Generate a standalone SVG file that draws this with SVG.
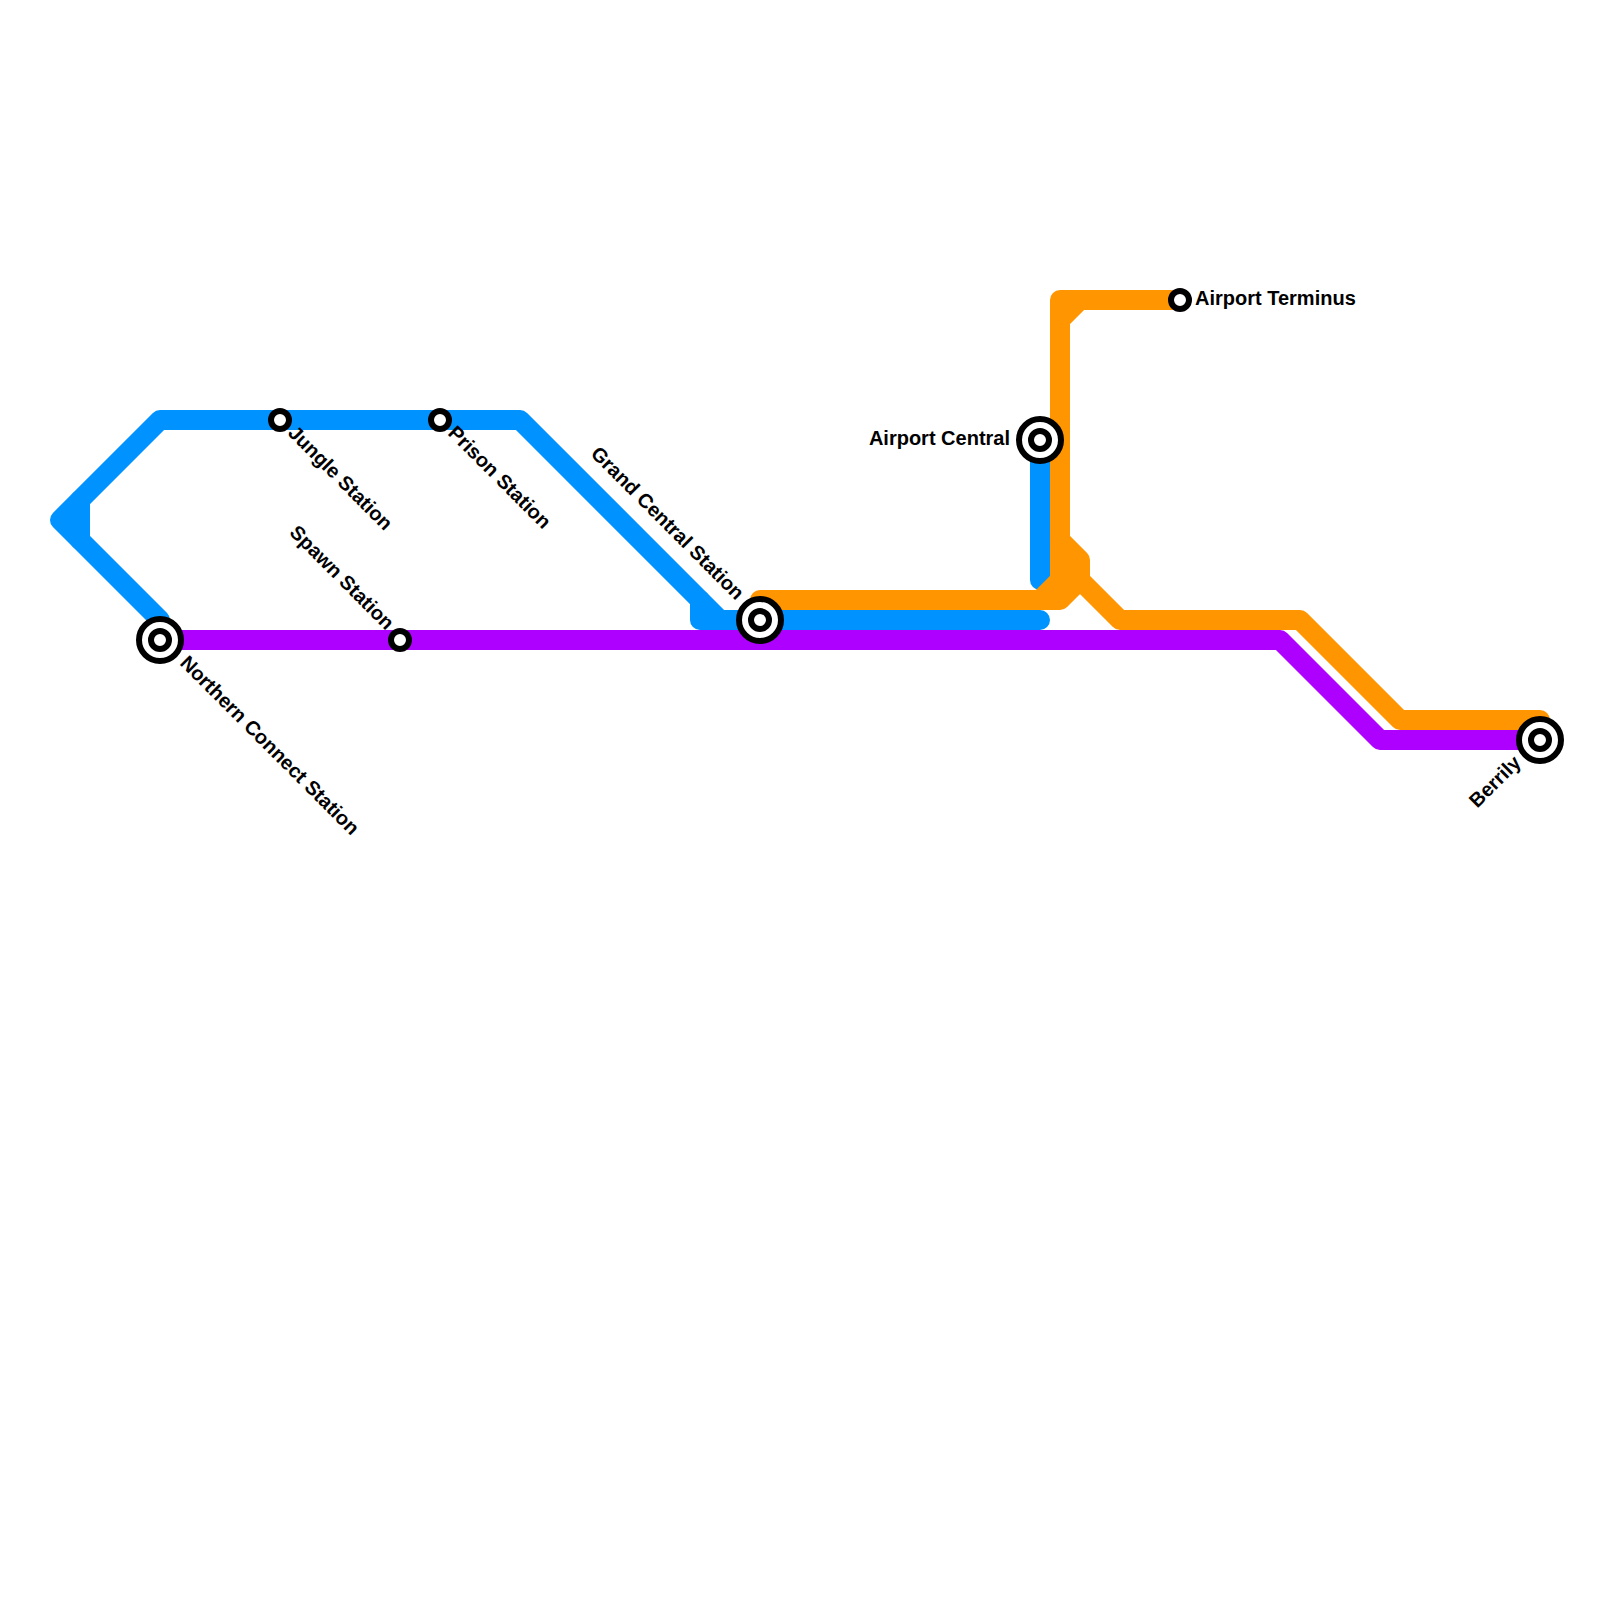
<svg xmlns="http://www.w3.org/2000/svg" width="1600" height="1600" viewBox="0 0 1600 1600">
<style>
.l{fill:none;stroke-width:20;stroke-linecap:round;stroke-linejoin:round}
.b{stroke:#0092ff}.o{stroke:#ff9500}.p{stroke:#ae00ff}
.s{fill:#fff;stroke:#000;stroke-width:6}
text{font-family:"Liberation Sans",Arial,sans-serif;font-size:20px;font-weight:700;fill:#000}
</style>
<rect width="1600" height="1600" fill="#fff"/>
<g id="connectors">
<path class="l b" d="M160 620L60 520L160 420H520L720 620H1040"/>
<path class="l b" d="M80 500V540"/>
<path class="l b" d="M700 600V620H720"/>
<path class="l b" d="M1040 440V580"/>
<path class="l o" d="M1180 300H1060V580L1040 600H760"/>
<path class="l o" d="M1080 300L1060 320"/>
<path class="l o" d="M1060 540L1080 560V580L1060 600H1040"/>
<path class="l o" d="M1080 580L1120 620H1300L1400 720H1540"/>
<path class="l p" d="M160 640H1280L1380 740H1540"/>
</g>
<g id="northern-connect"><circle class="s" cx="160" cy="640" r="21"/><circle class="s" cx="160" cy="640" r="9"/><text transform="translate(179 664) rotate(45)">Northern Connect Station</text></g>
<g id="jungle"><circle class="s" cx="280" cy="420" r="9"/><text transform="translate(287 434) rotate(45)">Jungle Station</text></g>
<g id="prison"><circle class="s" cx="440" cy="420" r="9"/><text transform="translate(447 434) rotate(45)">Prison Station</text></g>
<g id="spawn"><circle class="s" cx="400" cy="640" r="9"/><text text-anchor="end" transform="translate(386 631) rotate(45)">Spawn Station</text></g>
<g id="grand-central"><circle class="s" cx="760" cy="620" r="21"/><circle class="s" cx="760" cy="620" r="9"/><text text-anchor="end" transform="translate(736 601) rotate(45)">Grand Central Station</text></g>
<g id="airport-central"><circle class="s" cx="1040" cy="440" r="21"/><circle class="s" cx="1040" cy="440" r="9"/><text text-anchor="end" x="1010" y="445">Airport Central</text></g>
<g id="airport-terminus"><circle class="s" cx="1180" cy="300" r="9"/><text x="1195" y="305">Airport Terminus</text></g>
<g id="berrily"><circle class="s" cx="1540" cy="740" r="21"/><circle class="s" cx="1540" cy="740" r="9"/><text text-anchor="end" transform="translate(1522 764) rotate(-45)">Berrily</text></g>
</svg>
